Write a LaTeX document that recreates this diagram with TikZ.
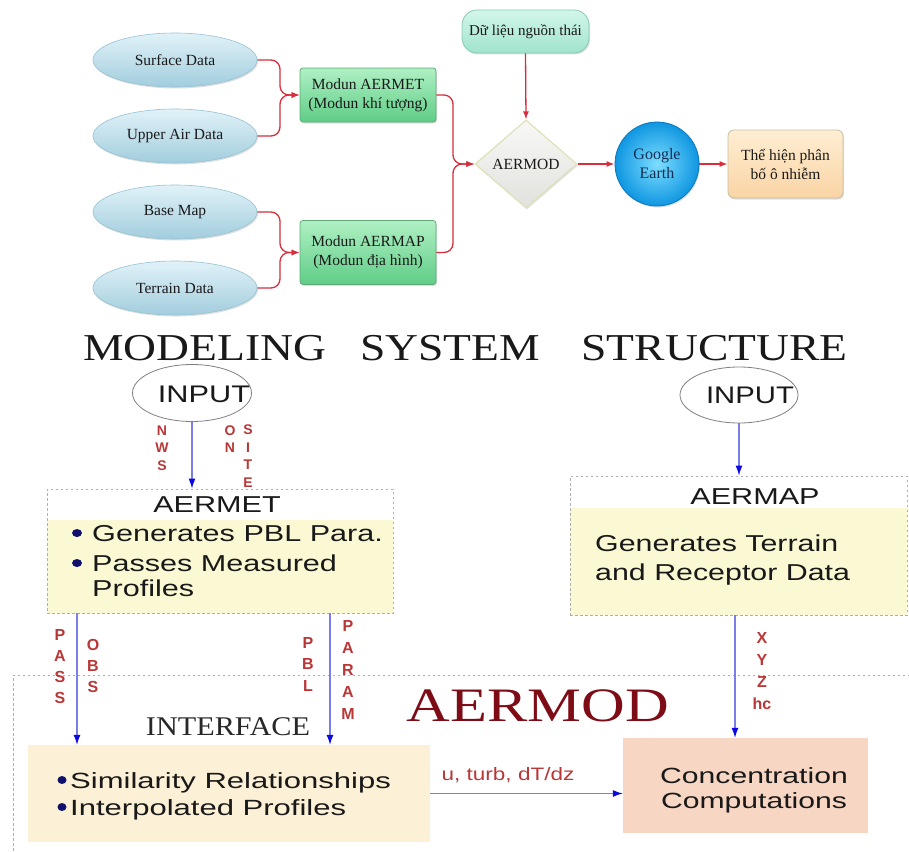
\documentclass[tikz,border=0pt]{standalone}
\usepackage{fontspec}
\usepackage{graphicx}
\setmainfont{Liberation Serif}
\setsansfont{Liberation Sans}
\usetikzlibrary{shapes.geometric,arrows.meta,shadows,calc}
\definecolor{ellA}{RGB}{225,242,248}
\definecolor{ellB}{RGB}{162,205,222}
\definecolor{ellD}{RGB}{150,195,212}
\definecolor{grA}{RGB}{175,240,195}
\definecolor{grB}{RGB}{95,205,135}
\definecolor{grD}{RGB}{95,170,120}
\definecolor{srcA}{RGB}{210,246,234}
\definecolor{srcB}{RGB}{160,228,205}
\definecolor{srcD}{RGB}{140,200,180}
\definecolor{diaA}{RGB}{248,248,246}
\definecolor{diaB}{RGB}{225,225,222}
\definecolor{diaD}{RGB}{225,225,185}
\definecolor{geA}{RGB}{125,222,255}
\definecolor{geB}{RGB}{15,150,225}
\definecolor{geD}{RGB}{10,120,190}
\definecolor{outA}{RGB}{254,238,210}
\definecolor{outB}{RGB}{250,212,165}
\definecolor{outD}{RGB}{195,190,160}
\definecolor{redc}{RGB}{215,45,60}
\definecolor{redl}{RGB}{185,55,55}
\definecolor{bluel}{RGB}{125,125,232}
\definecolor{bluet}{RGB}{10,10,225}
\definecolor{navy}{RGB}{15,15,110}
\definecolor{yel}{RGB}{251,249,212}
\definecolor{intf}{RGB}{252,240,214}
\definecolor{conf}{RGB}{248,214,196}
\definecolor{dgray}{RGB}{175,175,175}
\definecolor{darkred}{RGB}{125,12,22}
\definecolor{txt}{RGB}{25,25,25}
\newcommand\myfs[1]{\fontsize{#1}{#1}\selectfont}
\newcommand\hsc[2]{\scalebox{#1}[1]{#2}}
\begin{document}
\begin{tikzpicture}[x=1pt,y=-1pt,
 shd/.style={drop shadow={opacity=0.25, shadow xshift=1pt, shadow yshift=-1.5pt}},
 ell/.style={ellipse, draw=ellD, line width=0.6pt, top color=ellA, bottom color=ellB,
   minimum width=164pt, minimum height=54pt, inner sep=0pt, font=\myfs{15.5}, text=txt, shd},
 grbox/.style={rectangle, rounded corners=3pt, draw=grD, line width=0.8pt, top color=grA, bottom color=grB,
   minimum width=136pt, align=center, font=\fontsize{15.5}{19}\selectfont, text=txt, shd},
 redconn/.style={draw=redc, line width=1.3pt, rounded corners=9pt, -{Latex[length=8pt,width=6pt]}},
 blueconn/.style={draw=bluel, line width=1.1pt, -{Latex[length=10pt,width=7pt,bluet]}},
 dbox/.style={draw=dgray, line width=1pt, dash pattern=on 2.5pt off 2.5pt},
 sans/.style={font=\sffamily\myfs{#1}, text=txt, inner sep=0pt},
 lab/.style={font=\sffamily\fontsize{#1}{#1}\selectfont\bfseries, text=redl, align=center, inner sep=0pt},
 bul/.style={fill=navy}
]
\useasboundingbox (0,0) rectangle (909,851);
\fill[white] (0,0) rectangle (909,851);

% ---------------- top flow chart ----------------
\node[ell] (surf) at (175,60) {Surface Data};
\node[ell] (upper) at (175,136) {Upper Air Data};
\node[ell] (base) at (175,212) {Base Map};
\node[ell] (terr) at (175,288) {Terrain Data};

\node[grbox, minimum height=54pt] (aermet) at (368,95) {Modun AERMET\\(Modun khí tượng)};
\node[grbox, minimum height=64pt] (aermap) at (368,252.5) {Modun AERMAP\\(Modun địa hình)};

\node[rectangle, rounded corners=15pt, draw=srcD, line width=0.8pt, top color=srcA, bottom color=srcB,
  minimum width=127pt, minimum height=43pt, font=\myfs{15}, text=txt, shd] (src) at (525.5,31.5) {Dữ liệu nguồn thái};
\node[diamond, draw=diaD, line width=1.2pt, top color=diaA, bottom color=diaB,
  minimum width=102pt, minimum height=88pt, inner sep=0pt, font=\myfs{15.5}, text=txt, shd] (aermod) at (526,164) {AERMOD};
\node[circle, draw=geD, line width=0.8pt, shading=radial, inner color=geA, outer color=geB,
  minimum size=84pt, inner sep=0pt, align=center, font=\fontsize{16}{19}\selectfont, text={rgb,255:red,20;green,45;blue,85}, shd] (ge) at (657,164) {Google\\Earth};
\node[rectangle, rounded corners=6pt, draw=outD, line width=0.8pt, top color=outA, bottom color=outB,
  minimum width=115pt, minimum height=68pt, align=center, font=\fontsize{15.5}{19}\selectfont, text=txt, shd] (out) at (785.5,164) {Thể hiện phân\\bố ô nhiễm};

\coordinate (j1) at (280,95);
\coordinate (j2) at (280,252.5);
\coordinate (j3) at (453,164);
\draw[redconn] (surf.east) -| (j1) -- (aermet.west);
\draw[redconn] (upper.east) -| (j1) -- (aermet.west);
\draw[redconn] (base.east) -| (j2) -- (aermap.west);
\draw[redconn] (terr.east) -| (j2) -- (aermap.west);
\draw[redconn] (aermet.east) -| (j3) -- (aermod.west);
\draw[redconn] (aermap.east) -| (j3) -- (aermod.west);
\draw[redconn] (src.south) -- (aermod.north);
\draw[redconn] (aermod.east) -- (ge.west);
\draw[redconn] (ge.east) -- (out.west);

% ---------------- modeling system structure ----------------
\node[font=\myfs{38}, text=txt, inner sep=0pt] (t1) at (205,348) {\hsc{1.2}{MODELING}};
\node[font=\myfs{38}, text=txt, inner sep=0pt] (t2) at (450,348) {\hsc{1.2}{SYSTEM}};
\node[font=\myfs{38}, text=txt, inner sep=0pt] (t3) at (714.5,348) {\hsc{1.2}{STRUCTURE}};

\node[ellipse, draw=gray, line width=0.8pt, minimum width=119pt, minimum height=57pt, inner sep=0pt] (in1) at (192,393) {};
\node[sans=24] (in1t) at (204,394) {\hsc{1.28}{INPUT}};
\node[ellipse, draw=gray, line width=0.8pt, minimum width=118pt, minimum height=56pt, inner sep=0pt] (in2) at (739,395) {};
\node[sans=24] (in2t) at (750,395) {\hsc{1.22}{INPUT}};

% AERMET box
\fill[yel] (47,520) rectangle (393,613);
\node[dbox, rectangle, minimum width=346pt, minimum height=124pt, inner sep=0pt] (metbox) at (220,551) {};
\node[sans=23] (mett) at (217,505) {\hsc{1.33}{AERMET}};
\fill[bul] (77,533) ellipse [x radius=5, y radius=4];
\fill[bul] (77,563) ellipse [x radius=5, y radius=4];
\node[sans=23, anchor=base west] (m1) at (92,541) {\hsc{1.33}{Generates PBL Para.}};
\node[sans=23, anchor=base west] (m2) at (92,571) {\hsc{1.33}{Passes Measured}};
\node[sans=23, anchor=base west] (m3) at (92,596) {\hsc{1.33}{Profiles}};

% AERMAP box
\fill[yel] (570,508) rectangle (907,615);
\node[dbox, rectangle, minimum width=337pt, minimum height=139pt, inner sep=0pt] (mapbox) at (738.5,545.5) {};
\node[sans=23] (mapt) at (755,497) {\hsc{1.33}{AERMAP}};
\node[sans=23, anchor=base west] (p1) at (595,551) {\hsc{1.32}{Generates Terrain}};
\node[sans=23, anchor=base west] (p2) at (595,580) {\hsc{1.32}{and Receptor Data}};

\draw[blueconn] (in1.south) -- (in1.south |- metbox.north);
\draw[blueconn] (in2.south) -- (in2.south |- mapbox.north);

\node[lab=14, font=\sffamily\fontsize{14}{17.5}\selectfont\bfseries] at (162,448) {N\\W\\S};
\node[lab=14, font=\sffamily\fontsize{14}{17.5}\selectfont\bfseries] at (230,439) {O\\N};
\node[lab=14, font=\sffamily\fontsize{14}{17.5}\selectfont\bfseries] at (248,456) {S\\I\\T\\E};

% ---------------- AERMOD ----------------
\draw[dbox] (915,675) -- (13,675) -- (13,860);
\node[font=\myfs{48}, text=darkred, inner sep=0pt] (aermodt) at (538,706) {\hsc{1.26}{AERMOD}};
\node[font=\myfs{27}, text={rgb,255:red,40;green,40;blue,40}, inner sep=0pt] (interft) at (228,727) {\hsc{1.12}{INTERFACE}};

\node[rectangle, fill=intf, minimum width=402pt, minimum height=97pt, inner sep=0pt] (intbox) at (229,793.5) {};
\fill[bul] (62,780) ellipse [x radius=4.5, y radius=4];
\fill[bul] (62,807) ellipse [x radius=4.5, y radius=4];
\node[sans=22, anchor=base west] (i1) at (70,788) {\hsc{1.41}{Similarity Relationships}};
\node[sans=22, anchor=base west] (i2) at (70,815) {\hsc{1.41}{Interpolated Profiles}};

\node[rectangle, fill=conf, minimum width=245pt, minimum height=95pt, inner sep=0pt] (conbox) at (745.5,785.5) {};
\node[sans=22, anchor=base] (c1) at (754,783) {\hsc{1.37}{Concentration}};
\node[sans=22, anchor=base] (c2) at (754,808) {\hsc{1.37}{Computations}};

\coordinate (pa) at (77,613);
\coordinate (pb) at (330,613);
\coordinate (px) at (735,615);
\draw[blueconn] (pa) -- (pa |- intbox.north);
\draw[blueconn] (pb) -- (pb |- intbox.north);
\draw[blueconn] (px) -- (px |- conbox.north);
\draw[blueconn] (intbox.east) -- (intbox.east -| conbox.west);

\node[lab=16, font=\sffamily\fontsize{16}{21}\selectfont\bfseries] at (60,667) {P\\A\\S\\S};
\node[lab=16, font=\sffamily\fontsize{16}{21}\selectfont\bfseries] at (93,666) {O\\B\\S};
\node[lab=16, font=\sffamily\fontsize{16}{21.5}\selectfont\bfseries] at (308,664) {P\\B\\L};
\node[lab=16, font=\sffamily\fontsize{16}{22}\selectfont\bfseries] at (348,670) {P\\A\\R\\A\\M};
\node[lab=16, font=\sffamily\fontsize{16}{22}\selectfont\bfseries] at (762,671) {X\\Y\\Z\\hc};
\node[font=\sffamily\myfs{18}, text=redl, inner sep=0pt] (ul) at (508,775) {\hsc{1.25}{u, turb, dT/dz}};
\end{tikzpicture}
\end{document}
